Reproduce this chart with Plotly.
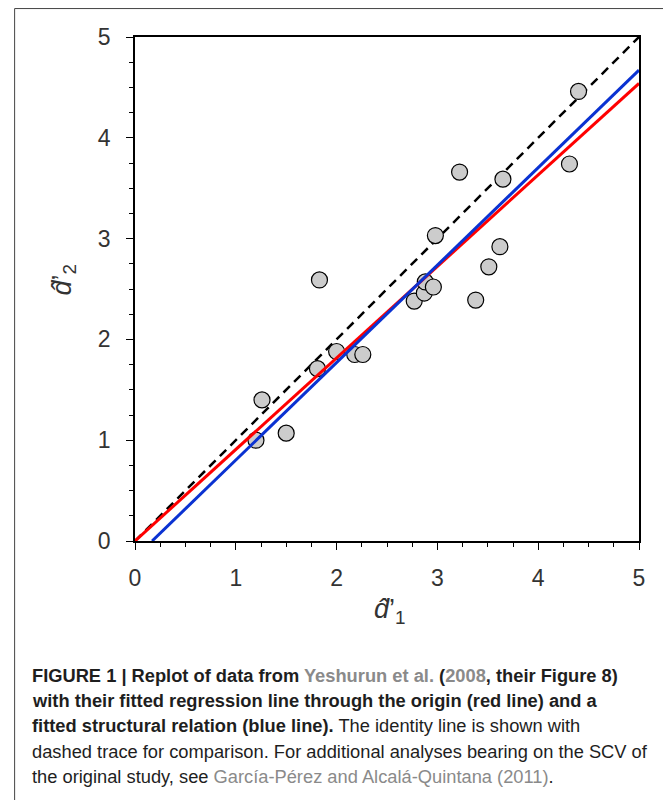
import plotly.graph_objects as go

# ---- data ----
d1 = [1.20, 1.26, 1.50, 1.81, 1.83, 2.00, 2.18, 2.26, 2.77, 2.87,
      2.88, 2.96, 2.98, 3.22, 3.38, 3.51, 3.62, 3.65, 4.31, 4.40]
d2 = [1.00, 1.40, 1.07, 1.71, 2.59, 1.88, 1.85, 1.85, 2.38, 2.46,
      2.57, 2.52, 3.03, 3.66, 2.39, 2.72, 2.92, 3.59, 3.74, 4.46]
red_slope = 0.908            # regression through the origin
blue_slope = 0.967           # structural relation
blue_intercept = -0.164
axis_range = [0, 5]
tick_vals = [0, 1, 2, 3, 4, 5]
tick_text = ["0", "1", "2", "3", "4", "5"]

caption_lines = [
    "<b>FIGURE 1 | Replot of data from <span style='color:#8a8a8a'>Yeshurun et al.</span> (<span style='color:#8a8a8a'>2008</span>, their Figure 8)</b>",
    "<b>with their fitted regression line through the origin (red line) and a</b>",
    "<b>fitted structural relation (blue line).</b> The identity line is shown with",
    "dashed trace for comparison. For additional analyses bearing on the SCV of",
    "the original study, see <span style='color:#8a8a8a'>García-Pérez and Alcalá-Quintana (2011)</span>.",
]

# ---- layout geometry (screen pixels; the page body adds an 8px offset) ----
OFF = 8
SW, SH = 671, 800
W, H = SW - OFF, SH - OFF
L, R, T, B = 134.5, 639.0, 36.5, 541.5      # plot area on screen
PW, PH = R - L, B - T


def px(x):
    return (x - L) / PW


def py(y):
    return (B - y) / PH


fig = go.Figure()

# identity line
fig.add_trace(go.Scatter(x=axis_range, y=axis_range, mode="lines",
                         line=dict(color="black", width=2.5, dash="9px,6px"),
                         hoverinfo="skip", showlegend=False))
# data points
fig.add_trace(go.Scatter(x=d1, y=d2, mode="markers",
                         marker=dict(size=16, color="#cccccc",
                                     line=dict(color="black", width=1.2)),
                         showlegend=False))
# red regression line through origin
rx = [axis_range[0], axis_range[1]]
fig.add_trace(go.Scatter(x=rx, y=[red_slope * v for v in rx], mode="lines",
                         line=dict(color="#ff0000", width=3),
                         hoverinfo="skip", showlegend=False))
# blue structural relation
bx = [-blue_intercept / blue_slope, axis_range[1]]
fig.add_trace(go.Scatter(x=bx, y=[blue_slope * v + blue_intercept for v in bx], mode="lines",
                         line=dict(color="#0a32d2", width=3),
                         hoverinfo="skip", showlegend=False))

axis_common = dict(
    range=axis_range, tickmode="array", tickvals=tick_vals, ticktext=tick_text,
    showgrid=False, zeroline=False, showline=True, linecolor="black", linewidth=1.6,
    mirror=True, ticks="outside", ticklen=7, tickwidth=1.4, tickcolor="black",
    tickfont=dict(family="Liberation Sans, Arial, sans-serif", size=23, color="#333333"),
    minor=dict(dtick=0.25, ticks="outside", ticklen=4, tickwidth=1.2, tickcolor="black"),
    fixedrange=True,
)

fig.update_xaxes(**axis_common, ticklabelstandoff=9)
fig.update_yaxes(**axis_common, ticklabelstandoff=11)

annotations = []
title_font = dict(family="Liberation Sans, Arial, sans-serif", size=27, color="#333333")
# axis titles
annotations.append(dict(x=px(390), y=py(612), xref="paper", yref="paper",
                        text="<i>d̂</i>’<sub>1</sub>", showarrow=False,
                        font=title_font, xanchor="center", yanchor="middle"))
annotations.append(dict(x=px(63), y=py(280), xref="paper", yref="paper",
                        text="<i>d̂</i>’<sub>2</sub>", showarrow=False, textangle=-90,
                        font=title_font, xanchor="center", yanchor="middle"))
# caption
line_y = [676, 701, 726.5, 752, 777]
for txt, yy in zip(caption_lines, line_y):
    annotations.append(dict(x=px(29), y=py(yy), xref="paper", yref="paper",
                            text=txt, showarrow=False, align="left",
                            font=dict(family="Liberation Sans, Arial, sans-serif",
                                      size=18.3, color="#1e1e1e"),
                            xanchor="left", yanchor="middle"))

fig.update_layout(
    width=W, height=H,
    margin=dict(l=L - OFF, r=SW - R, t=T - OFF, b=SH - B, pad=0),
    paper_bgcolor="white", plot_bgcolor="white",
    annotations=annotations,
    shapes=[dict(type="rect", xref="paper", yref="paper",
                 x0=px(14), x1=px(667), y0=py(812), y1=py(8),
                 line=dict(color="#444444", width=1), fillcolor="rgba(0,0,0,0)",
                 layer="below")],
)

fig.write_html("out.html")
